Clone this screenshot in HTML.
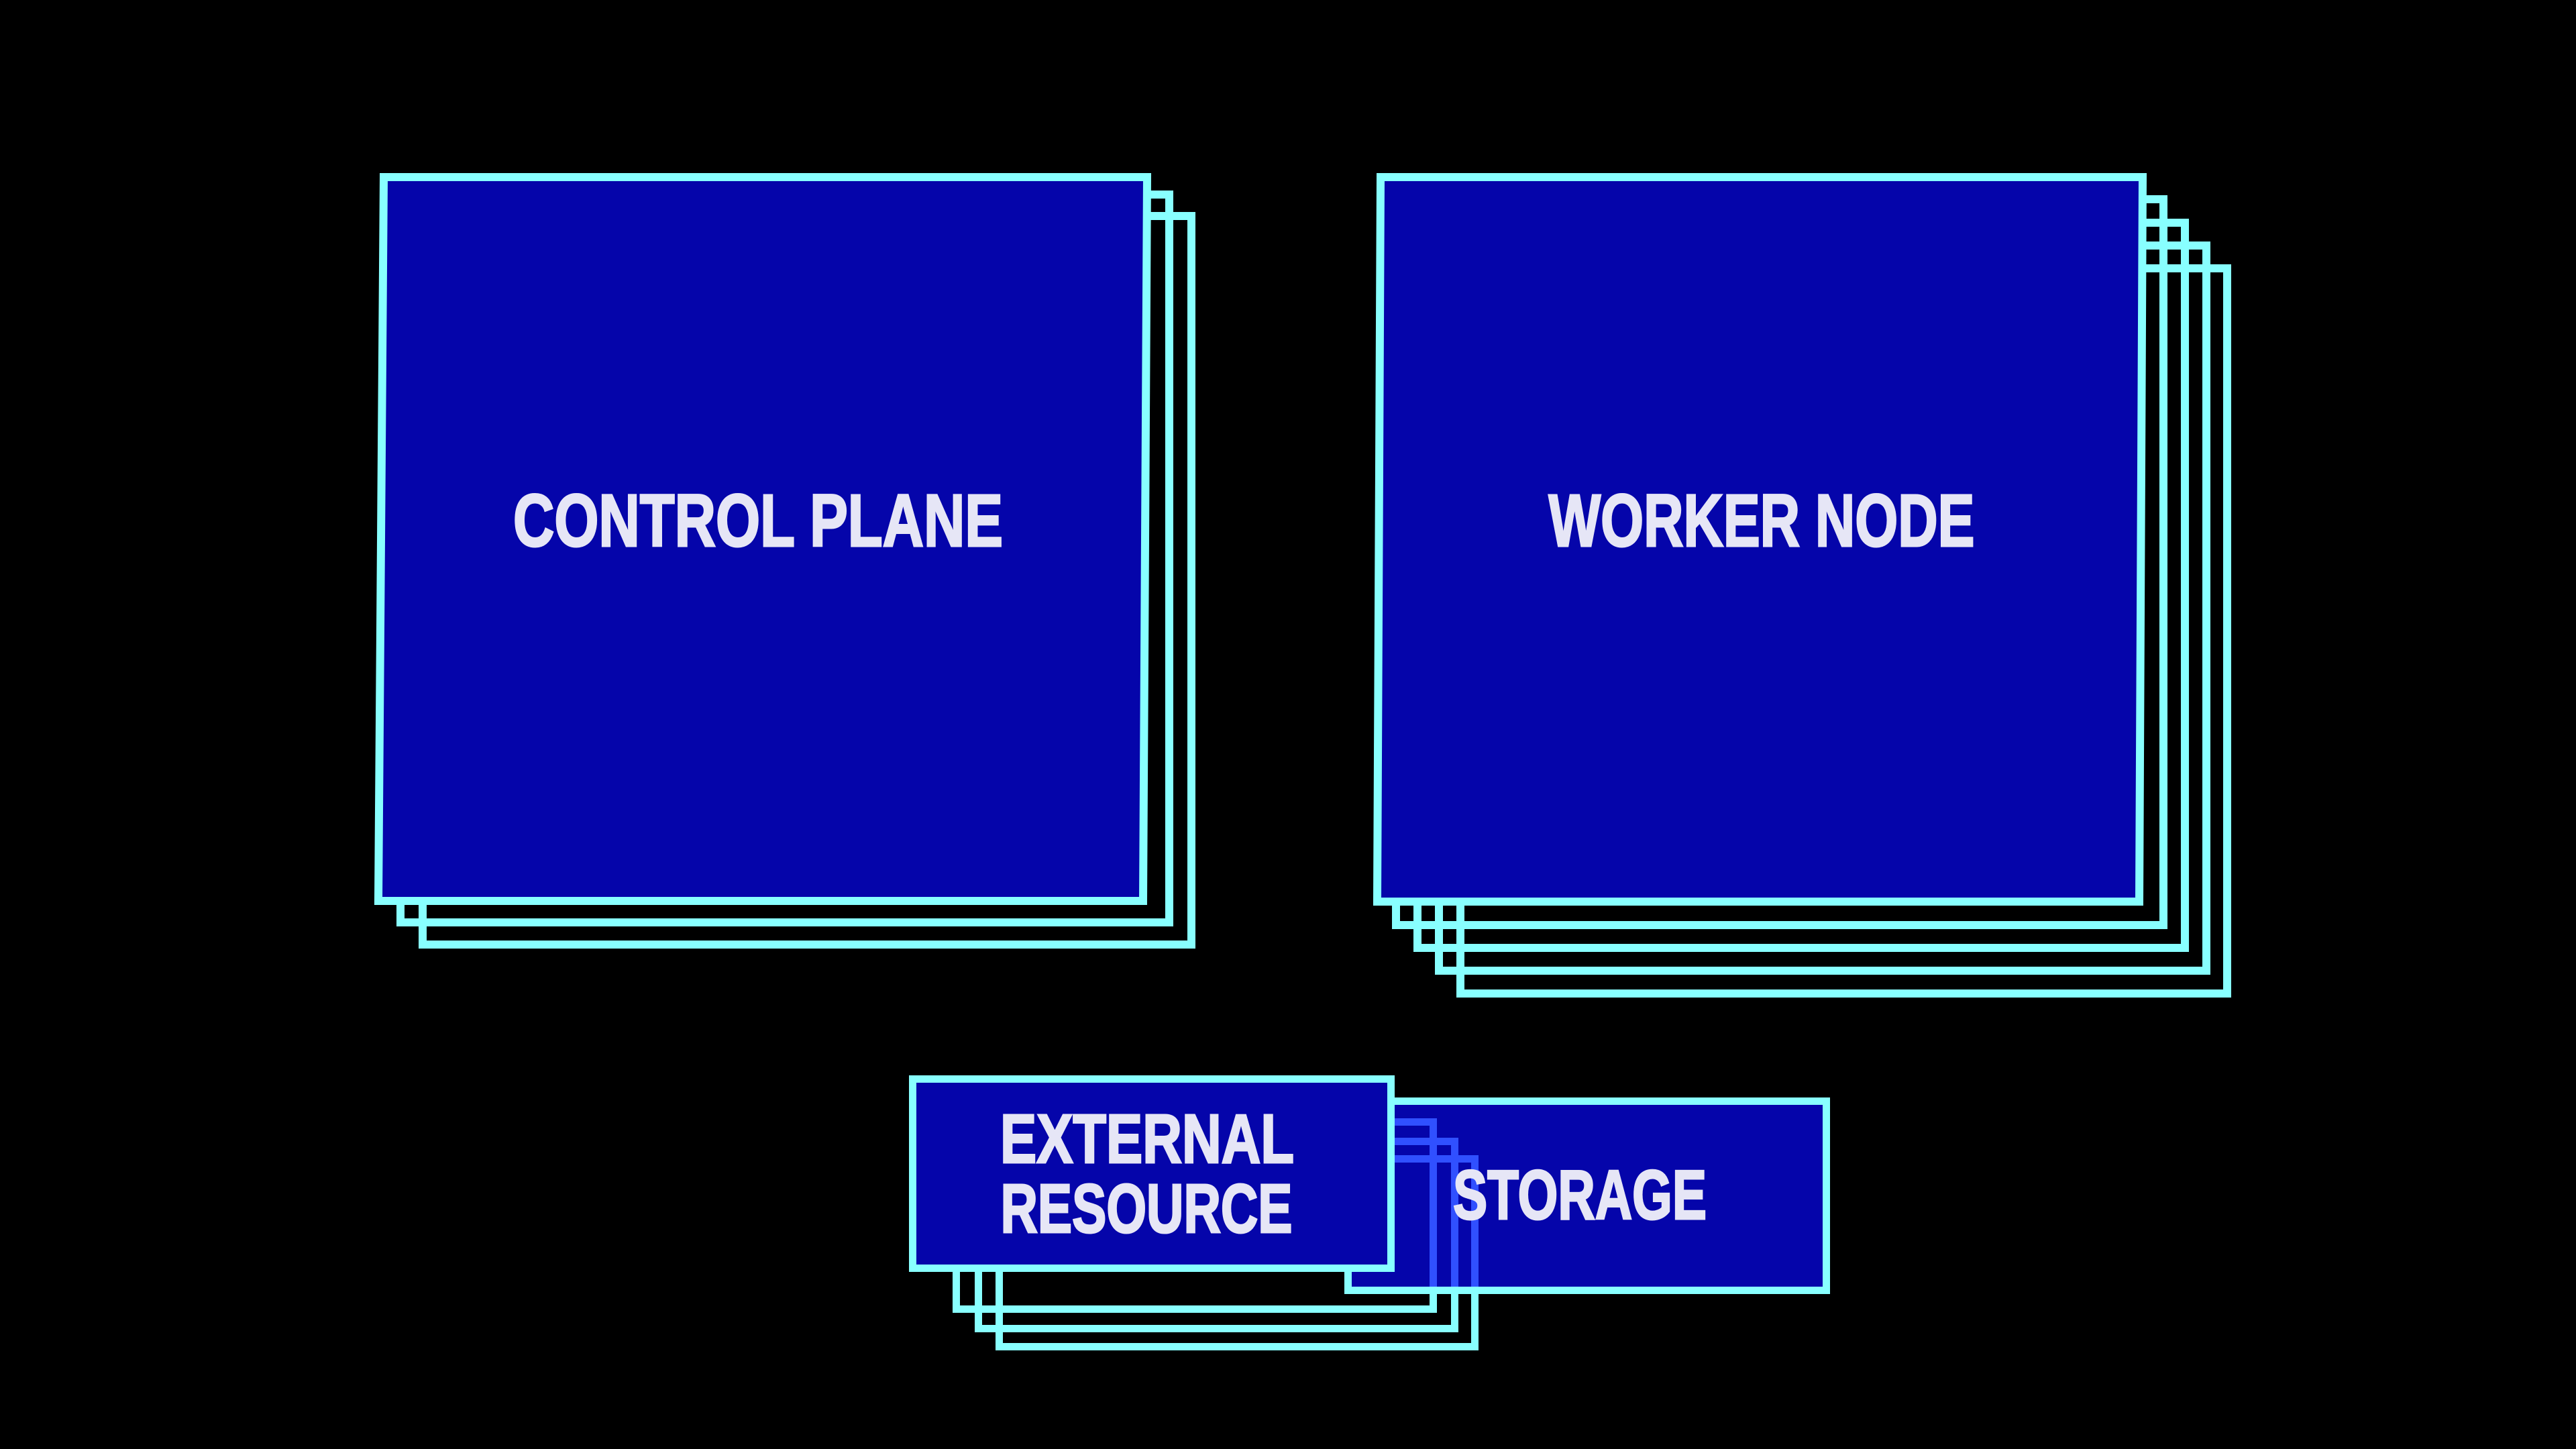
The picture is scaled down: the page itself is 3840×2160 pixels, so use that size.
<!DOCTYPE html>
<html><head><meta charset="utf-8"><style>
html,body{margin:0;padding:0;background:#000;}
svg{display:block}
text{font-family:"Liberation Sans Narrow","Liberation Sans",sans-serif;font-weight:bold;fill:#e6e6f6;stroke:#e6e6f6;stroke-width:3;}
</style></head><body>
<svg width="3840" height="2160" viewBox="0 0 3840 2160" xmlns="http://www.w3.org/2000/svg">
<rect width="3840" height="2160" fill="#000" stroke="none"/>
<g fill="none" stroke="#88ffff" stroke-width="12">
  <rect x="630" y="322" width="1146" height="1086"/>
  <rect x="597" y="290" width="1146" height="1085"/>
  <rect x="2177" y="400" width="1143" height="1081"/>
  <rect x="2145" y="366" width="1144" height="1081"/>
  <rect x="2113" y="332" width="1144" height="1081"/>
  <rect x="2081" y="297" width="1144" height="1082"/>
</g>
<polygon points="572,264 1710,264 1704,1343 564,1343" fill="#0505aa" stroke="#88ffff" stroke-width="12"/>
<polygon points="2058,264 3194,264 3189,1344 2053,1344" fill="#0505aa" stroke="#88ffff" stroke-width="12"/>
<text x="1130" y="814" font-size="110" textLength="730" lengthAdjust="spacingAndGlyphs" text-anchor="middle">CONTROL PLANE</text>
<text x="2626" y="814" font-size="110" textLength="635" lengthAdjust="spacingAndGlyphs" text-anchor="middle">WORKER NODE</text>

<g fill="none" stroke="#88ffff" stroke-width="11">
  <rect x="1489.5" y="1727.5" width="709" height="280"/>
  <rect x="1458.5" y="1701.5" width="710" height="279"/>
  <rect x="1425.5" y="1672.5" width="711" height="279"/>
</g>
<rect x="2009.5" y="1641.5" width="713" height="282" fill="#0505aa" stroke="#88ffff" stroke-width="11"/>
<g fill="none" stroke="#3050ff" stroke-width="11">
  <polyline points="2015,1672.5 2136.5,1672.5 2136.5,1918"/>
  <polyline points="2015,1701.5 2168.5,1701.5 2168.5,1918"/>
  <polyline points="2015,1727.5 2198.5,1727.5 2198.5,1918"/>
</g>
<text x="2355" y="1817" font-size="104" textLength="378" lengthAdjust="spacingAndGlyphs" text-anchor="middle">STORAGE</text>
<rect x="1360.5" y="1608.5" width="713" height="282" fill="#0505aa" stroke="#88ffff" stroke-width="11"/>
<text x="1710" y="1733" font-size="103" textLength="438" lengthAdjust="spacingAndGlyphs" text-anchor="middle">EXTERNAL</text>
<text x="1709" y="1837" font-size="103" textLength="435" lengthAdjust="spacingAndGlyphs" text-anchor="middle">RESOURCE</text>
</svg>
</body></html>
